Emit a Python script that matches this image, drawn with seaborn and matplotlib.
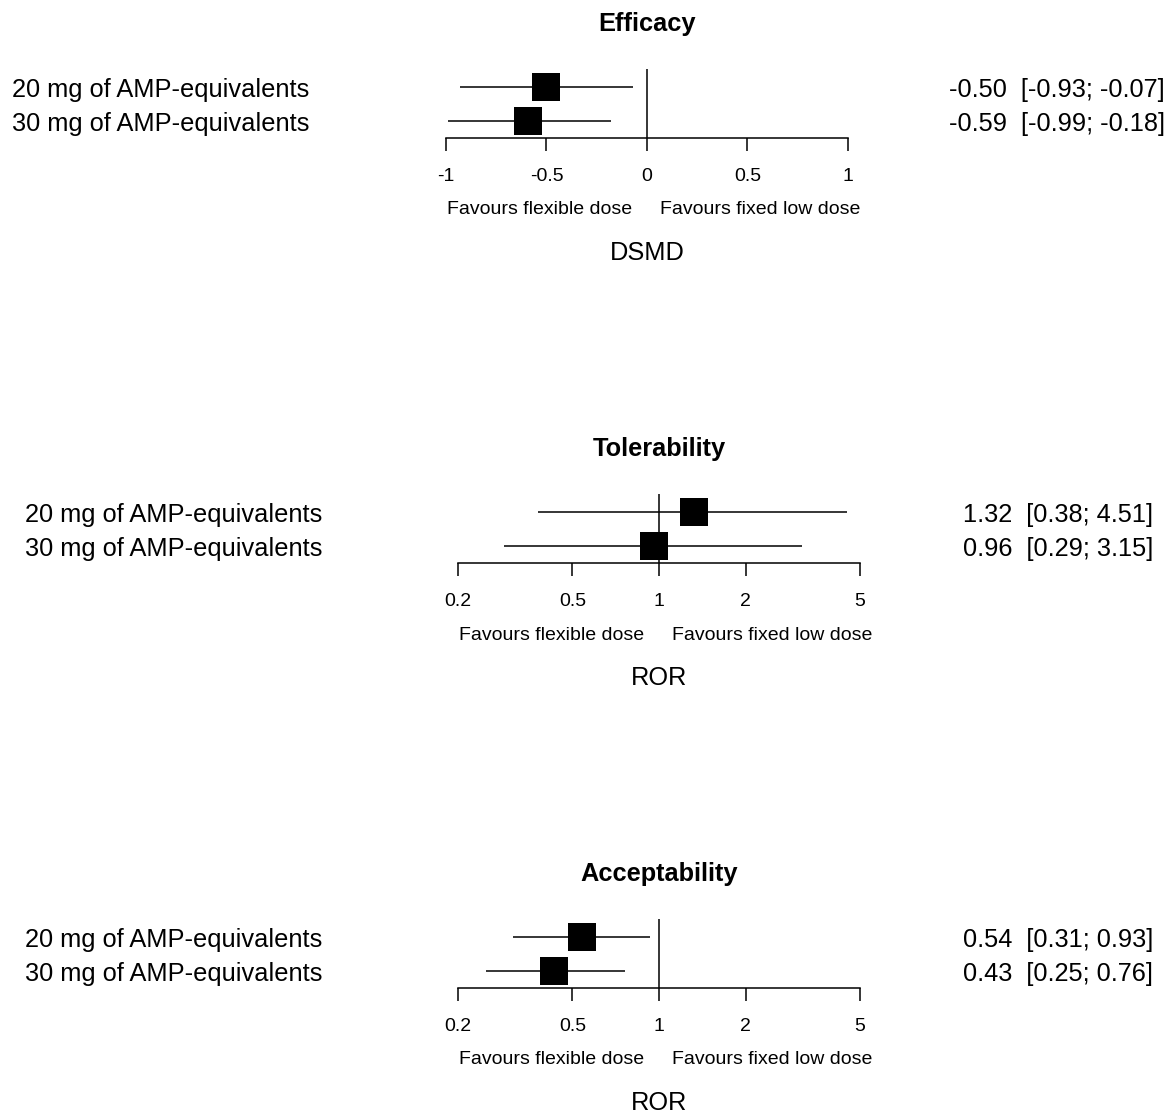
import matplotlib
matplotlib.use("Agg")
import matplotlib.pyplot as plt
import matplotlib.transforms as mtransforms
import pandas as pd
import seaborn as sns

# ---- data -------------------------------------------------------------
row_labels = ["20 mg of AMP-equivalents", "30 mg of AMP-equivalents"]

efficacy_est = [-0.50, -0.59]
efficacy_lo = [-0.93, -0.99]
efficacy_hi = [-0.07, -0.18]

tolerability_est = [1.32, 0.96]
tolerability_lo = [0.38, 0.29]
tolerability_hi = [4.51, 3.15]

acceptability_est = [0.54, 0.43]
acceptability_lo = [0.31, 0.25]
acceptability_hi = [0.93, 0.76]

dsmd_ticks = [-1, -0.5, 0, 0.5, 1]
dsmd_tick_labels = ["-1", "-0.5", "0", "0.5", "1"]
ror_ticks = [0.2, 0.5, 1, 2, 5]
ror_tick_labels = ["0.2", "0.5", "1", "2", "5"]

favours_left = "Favours flexible dose"
favours_right = "Favours fixed low dose"

# ---- style ------------------------------------------------------------
sns.set_style("white")
plt.rcParams["font.family"] = ["Liberation Sans", "DejaVu Sans"]
plt.rcParams["text.color"] = "black"
plt.rcParams["axes.labelcolor"] = "black"
plt.rcParams["xtick.color"] = "black"

W, H, DPI = 1173, 1113, 100
PX = 72.0 / DPI          # points per pixel
BIG = 18.3
SMALL = 14
LW = 1.1

fig = plt.figure(figsize=(W / DPI, H / DPI), dpi=DPI)
fig.patch.set_facecolor("white")


def forest(title, xlabel, est, lo, hi, ticks, tick_labels, ref, log,
           left_px, right_px, axis_px, label_px, value_px):
    df = pd.DataFrame({"label": row_labels, "est": est, "lo": lo, "hi": hi,
                       "row": list(range(len(est)))})
    ax = fig.add_axes([left_px / W, 1 - axis_px / H,
                       (right_px - left_px) / W, 69 / H])
    if log:
        ax.set_xscale("log")
    ax.set_xlim(ticks[0], ticks[-1])
    ax.set_ylim(1.5, -0.53)

    # reference line of no effect
    ax.axvline(ref, color="black", lw=LW, zorder=1)
    # confidence intervals
    ax.hlines(df["row"], df["lo"], df["hi"], color="black", lw=LW, zorder=2)
    # point estimates
    sns.scatterplot(data=df, x="est", y="row", marker="s", s=406,
                    color="black", linewidth=0, ax=ax, zorder=3,
                    clip_on=False, legend=False)

    ax.set_xticks(ticks)
    ax.set_xticklabels(tick_labels)
    ax.minorticks_off()
    ax.set_yticks([])
    ax.tick_params(axis="x", length=9.4, width=LW, direction="out",
                   pad=12, labelsize=SMALL, colors="black", bottom=True)
    for side in ("top", "left", "right"):
        ax.spines[side].set_visible(False)
    ax.spines["bottom"].set_linewidth(LW)
    ax.spines["bottom"].set_color("black")

    ax.set_xlabel(xlabel, fontsize=BIG, labelpad=40.5, color="black")
    ax.set_ylabel("")

    ax.annotate(title, xy=(0.5, 1), xycoords="axes fraction",
                xytext=(0, 45 * PX), textcoords="offset points",
                ha="center", va="center", fontsize=BIG, fontweight="bold")

    ax.annotate(favours_left, xy=(ref, 0), xycoords=("data", "axes fraction"),
                xytext=(-15 * PX, -72 * PX), textcoords="offset points",
                ha="right", va="center", fontsize=SMALL)
    ax.annotate(favours_right, xy=(ref, 0), xycoords=("data", "axes fraction"),
                xytext=(13 * PX, -72 * PX), textcoords="offset points",
                ha="left", va="center", fontsize=SMALL)

    trans = mtransforms.blended_transform_factory(fig.transFigure, ax.transData)
    trans = mtransforms.offset_copy(trans, fig=fig, y=-3 * PX, units="points")
    for _, r in df.iterrows():
        fig.text(label_px / W, r["row"], r["label"], transform=trans,
                 ha="left", va="center", fontsize=BIG)
        fig.text(value_px / W, r["row"],
                 f"{r['est']:.2f}  [{r['lo']:.2f}; {r['hi']:.2f}]",
                 transform=trans, ha="right", va="center", fontsize=BIG)
    return ax


forest("Efficacy", "DSMD", efficacy_est, efficacy_lo, efficacy_hi,
       dsmd_ticks, dsmd_tick_labels, 0, False,
       446, 848, 138, 12, 1165)
forest("Tolerability", "ROR", tolerability_est, tolerability_lo, tolerability_hi,
       ror_ticks, ror_tick_labels, 1, True,
       458, 860, 563, 25, 1153)
forest("Acceptability", "ROR", acceptability_est, acceptability_lo,
       acceptability_hi, ror_ticks, ror_tick_labels, 1, True,
       458, 860, 988, 25, 1153)

fig.savefig("out.png", dpi=DPI, facecolor="white")
